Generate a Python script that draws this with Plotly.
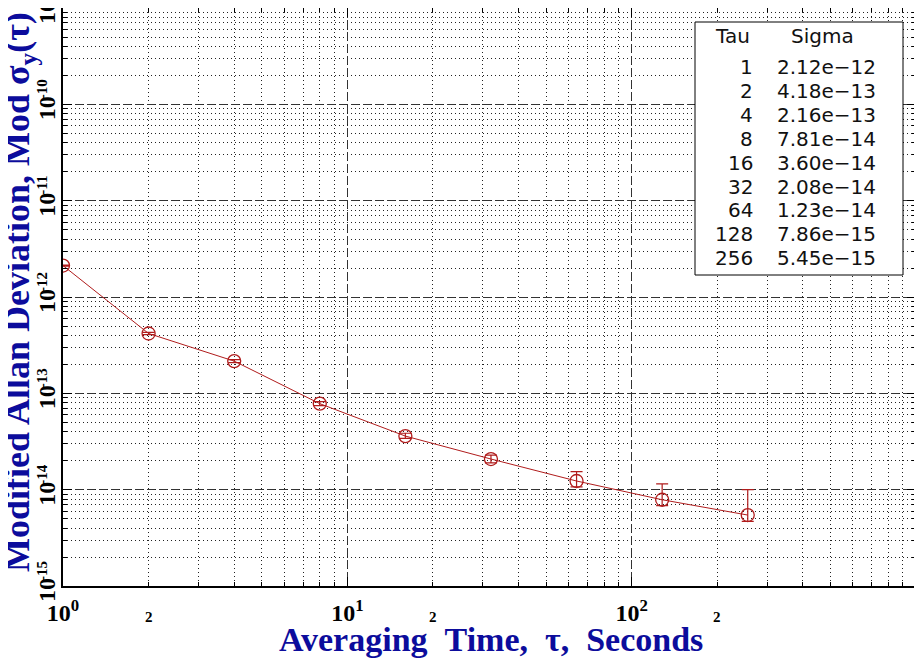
import plotly.graph_objects as go
import math

# ---- data ----
tau = [1, 2, 4, 8, 16, 32, 64, 128, 256]
sigma = [2.12e-12, 4.18e-13, 2.16e-13, 7.81e-14, 3.60e-14, 2.08e-14, 1.23e-14, 7.86e-15, 5.45e-15]
err_hi = [0.03e-12, 0.12e-13, 0.08e-13, 0.4e-14, 0.25e-14, 0.2e-14, 0.31e-14, 3.6e-15, 4.55e-15]
err_lo = [0.03e-12, 0.12e-13, 0.08e-13, 0.35e-14, 0.2e-14, 0.18e-14, 0.16e-14, 1.04e-15, 0.77e-15]

x_major = [1, 10, 100, 1000]
x_major_text = ["10<sup>0</sup>", "10<sup>1</sup>", "10<sup>2</sup>", "10<sup>3</sup>"]
x_minor_labels = [2, 20, 200]
y_major = [1e-15, 1e-14, 1e-13, 1e-12, 1e-11, 1e-10, 1e-9]
y_major_exp = ["-15", "-14", "-13", "-12", "-11", "-10", "-9"]

RED = "#b01c1c"
BLUE = "#0c0c9c"
SERIF = "Liberation Serif"
NB = "\u00a0"

# the page body adds an 8px offset; plot area on page: x 63..916, y 7..586
OFF = 8
W, H = 922, 658
L, T = 63 - OFF, 0
R = W - (916 - OFF)
B = H - (586 - OFF)
PW, PH = W - L - R, H - T - B

def py2p(py):
    return 1 - (py - OFF - T) / PH
def px2p(px):
    return (px - OFF - L) / PW

fig = go.Figure()
fig.add_trace(go.Scatter(
    x=tau, y=sigma, mode="lines+markers",
    line=dict(color=RED, width=1),
    marker=dict(symbol="circle-open", size=13, color=RED, line=dict(width=1.3, color=RED)),
    error_y=dict(type="data", symmetric=False, array=err_hi, arrayminus=err_lo,
                 color=RED, thickness=1.2, width=6),
    showlegend=False,
))

axis_common = dict(
    type="log", showline=True, linecolor="black", linewidth=2, mirror="allticks",
    ticks="inside", ticklen=9, tickwidth=1, tickcolor="black",
    showgrid=True, gridcolor="#333", gridwidth=1, griddash="8px,4px",
    minor=dict(dtick="D1", ticks="inside", ticklen=4, tickcolor="black",
               showgrid=True, gridcolor="#222", gridwidth=1, griddash="1px,3px"),
    zeroline=False, automargin=False,
    tickfont=dict(family=SERIF, size=24, color="black", weight="bold"),
)

fig.update_xaxes(
    **axis_common,
    range=[0, 3], tickmode="array", tickvals=x_major, ticktext=x_major_text,
    ticklabelstandoff=4,
)
fig.update_yaxes(
    **axis_common,
    range=[-15, -9], tickmode="array", tickvals=y_major, showticklabels=False,
)

# y tick labels (rotated "10" with exponent)
for v, e in zip(y_major, y_major_exp):
    fig.add_annotation(x=px2p(47), xref="paper", y=math.log10(v), yref="y", yshift=-4,
                       text="10", showarrow=False, textangle=-90,
                       xanchor="center", yanchor="middle",
                       font=dict(family=SERIF, size=24, color="black", weight="bold"))
    fig.add_annotation(x=px2p(42), xref="paper", y=math.log10(v), yref="y",
                       yshift=15 if len(e) == 3 else 12,
                       text=e, showarrow=False, textangle=-90,
                       xanchor="center", yanchor="middle",
                       font=dict(family=SERIF, size=15, color="black", weight="bold"))

# axis titles
fig.add_annotation(x=px2p(491), y=py2p(639), xref="paper", yref="paper",
                   text=f"Averaging{NB}{NB}Time,{NB}{NB}τ,{NB}{NB}Seconds", showarrow=False,
                   xanchor="center", yanchor="middle",
                   font=dict(family=SERIF, size=34, color=BLUE, weight="bold"))
fig.add_annotation(x=px2p(19), y=py2p(292), xref="paper", yref="paper",
                   text="Modified Allan Deviation, Mod σ<sub>y</sub>(τ)", showarrow=False,
                   textangle=-90, xanchor="center", yanchor="middle",
                   font=dict(family=SERIF, size=36, color=BLUE, weight="bold"))

# minor "2" labels under the x axis
for v in x_minor_labels:
    fig.add_annotation(x=math.log10(v), xref="x", y=py2p(617), yref="paper",
                       text="2", showarrow=False, yanchor="middle",
                       font=dict(family=SERIF, size=15, color="black", weight="bold"))

# table box
fig.add_shape(type="rect", xref="paper", yref="paper",
              x0=px2p(695), x1=px2p(903), y0=py2p(275), y1=py2p(22),
              line=dict(color="black", width=1), fillcolor="white", layer="above")

TFONT = dict(family="DejaVu Sans", size=20, color="#111")

fig.add_annotation(x=px2p(732), y=py2p(36), xref="paper", yref="paper",
                   text="Tau", showarrow=False, xanchor="center", yanchor="middle", font=TFONT)
fig.add_annotation(x=px2p(822), y=py2p(36), xref="paper", yref="paper",
                   text="Sigma", showarrow=False, xanchor="center", yanchor="middle", font=TFONT)
for i, (t, s) in enumerate(zip(tau, sigma)):
    yy = py2p(67 + 23.9 * i)
    fig.add_annotation(x=px2p(755), y=yy, xref="paper", yref="paper",
                       text=str(t), showarrow=False, xanchor="right", yanchor="middle", font=TFONT)
    fig.add_annotation(x=px2p(775), y=yy, xref="paper", yref="paper",
                       text=f"{s:.2e}".replace("-", "−"), showarrow=False,
                       xanchor="left", yanchor="middle", font=TFONT)

fig.update_layout(
    width=W, height=H,
    margin=dict(l=L, r=R, t=T, b=B),
    paper_bgcolor="white", plot_bgcolor="white",
)

fig.write_html("out.html")
